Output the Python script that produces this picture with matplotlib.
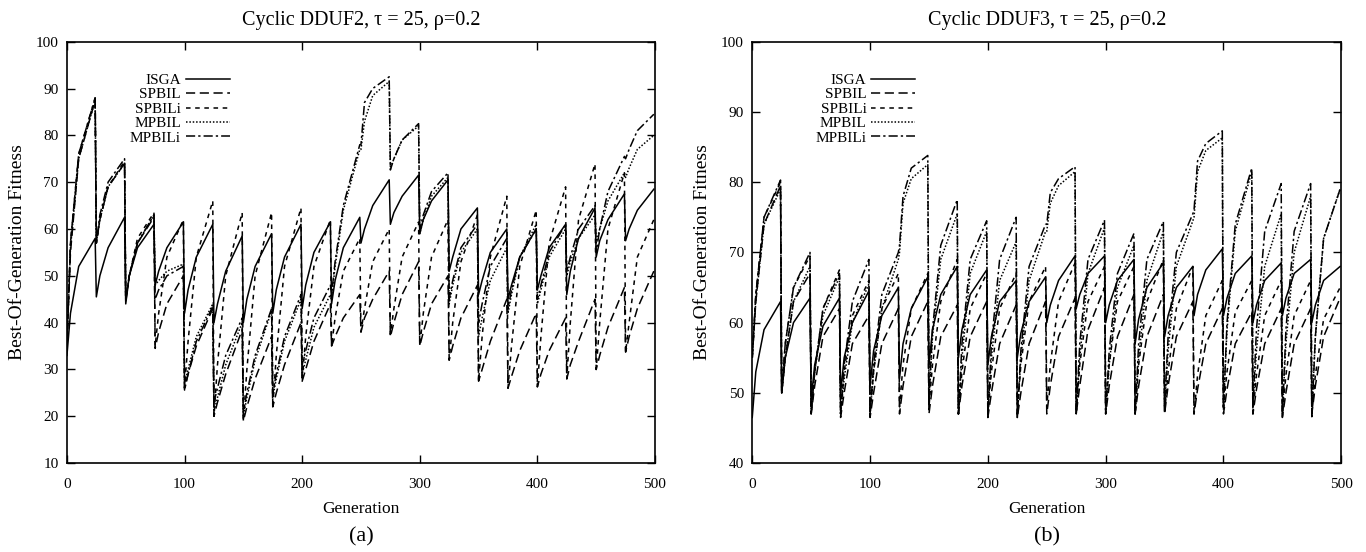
import matplotlib.pyplot as plt

plt.rcParams['font.family'] = ['Liberation Serif', 'DejaVu Serif']

# each 25-generation period is read at the change point, 3 and 10 generations later, and just before the next change
period_offsets = [0, 3, 10, 24]
n_periods = 20
gens = [25 * k + o for k in range(n_periods) for o in period_offsets]

names = ['ISGA', 'SPBIL', 'SPBILi', 'MPBIL', 'MPBILi']

# (a) Cyclic DDUF2, one row per period
isga_a = [[33, 42, 52, 58], [45.5, 50, 56, 62.5], [44, 50, 56, 61], [48, 51, 56, 61.5],
          [42, 47, 54, 61], [40, 44, 51, 58.5], [40, 45, 52, 59], [42, 47, 54, 61],
          [43, 48, 55, 61.5], [44, 49, 56, 62.5], [57, 60, 65, 70.5], [61, 63.5, 67, 71.5],
          [59, 62, 66, 70.5], [51, 54, 60, 64.5], [46, 49, 55, 60], [45, 48, 54, 60],
          [47, 50, 56, 61], [46, 51, 58, 64.5], [54, 57.5, 62, 67.5], [57.5, 60, 64, 68.5]]
spbil_a = [[35, 55, 75, 87.5], [57, 62, 69, 74], [45, 50, 57, 62.5], [34.5, 38, 44, 50],
           [26, 29, 35, 43], [20, 23, 29, 38.5], [19, 22, 28, 37], [22, 25, 31, 40],
           [27.5, 30, 36, 44], [35, 37, 41, 46], [38, 41, 45, 51], [37, 40, 46, 53],
           [35, 38, 44, 50], [32, 35, 41, 48], [27.5, 30, 36, 45], [26, 28.5, 34, 42],
           [26.3, 29, 34, 41], [28, 31, 36, 45], [30, 33, 39, 47.5], [33.7, 37, 43, 51]]
spbili_a = [[35, 57, 76, 88], [57, 62, 69, 74.5], [45, 50, 58, 63.5], [35, 42, 54, 62],
            [26, 36, 54, 66], [20, 31, 50, 63.5], [19, 30, 50, 63.5], [22, 33, 52, 64.5],
            [27.5, 37, 52, 62], [35, 41, 51, 58], [38, 43, 53, 60], [37.5, 43, 54, 61.5],
            [35, 42, 54, 62], [32, 40, 53, 63], [27.5, 37, 54, 67], [26, 35, 52, 64],
            [26.3, 37, 57, 69], [28, 40, 62, 73.9], [30, 40, 60, 72], [33.7, 40, 54, 62]]
mpbil_a = [[35, 56, 75, 87.5], [57, 62, 69, 74], [45, 50, 57, 63], [48, 49, 51, 52.5],
           [27, 30, 37, 44], [21, 24, 31, 40], [20, 24, 32, 42.5], [24, 28, 36, 45],
           [29, 32, 39, 46], [45, 52, 64, 77], [77, 83, 88.5, 91.5], [73, 75, 79, 82],
           [59, 62, 67, 71], [44, 48, 55, 60], [37, 41, 49, 56], [42, 46, 54, 61],
           [44, 47, 54, 60], [50, 53, 58, 63], [57, 60, 66, 72], [71, 73, 77, 80]]
mpbili_a = [[35, 57, 76, 88], [57, 63, 70, 75], [44.5, 50, 57, 63], [45, 47, 50, 52],
            [25.6, 29, 36, 43.5], [23, 26, 33, 41], [21, 25, 33, 43], [25, 29, 37, 46],
            [31, 34, 41, 48], [46, 53, 65, 78], [78, 87, 90, 92.5], [72.6, 75, 79, 82.5],
            [60, 63, 68, 72], [45, 49, 56, 61], [40, 44, 52, 58], [43, 47, 54, 60],
            [45, 48, 55, 61], [51, 54, 60, 65], [55, 60, 68, 75.5], [75, 77, 81, 84.5]]

# (b) Cyclic DDUF3
isga_b = [[46.5, 53, 59, 63], [50, 55, 60, 63.5], [49, 54, 59.5, 63.5], [50, 55, 60, 64.5],
          [51, 56, 61, 65], [52, 57, 62, 66.5], [54, 59, 64, 68], [55, 59, 64, 67.5],
          [54, 58, 63, 66], [55, 58.5, 63, 66.5], [60, 62.5, 66, 69.5], [62, 64, 67, 69.5],
          [60, 62.5, 66, 69], [57, 60.5, 65, 68.5], [58, 61, 65, 68], [61, 64, 67.5, 70.5],
          [61, 63.5, 67, 69.5], [60, 62.5, 66, 68.5], [61, 63.5, 67, 69], [60, 62.5, 66, 68]]
spbil_b = [[55, 63, 74, 79.5], [50, 55, 63, 67], [47, 51, 58, 62], [46.5, 50, 57, 61],
           [46.5, 50, 57, 62], [47, 51, 58, 63], [47, 51, 58, 62.5], [47, 51, 58, 63],
           [46.5, 50, 57, 62.5], [46.5, 50, 57, 63], [47, 51, 58, 63.5], [47, 51, 59, 65],
           [47, 51, 58, 64], [47, 51, 58, 64], [47, 51, 58, 63], [47, 50.5, 57, 62],
           [47, 50.5, 57, 61.5], [47, 50.5, 57, 62], [46.5, 50, 57, 62], [47, 51, 58, 63.5]]
spbili_b = [[55, 64, 75, 80], [50, 57, 65, 69.5], [47, 53, 62, 67.5], [47, 53, 61, 66],
            [47, 53, 62, 67], [48, 54, 62, 67], [48, 54, 63, 69], [47, 53, 62, 67],
            [47, 53, 62, 67], [47, 54, 63, 68], [48, 54, 63, 68.5], [47, 54, 63, 68],
            [48, 54, 63, 68], [47, 54, 63, 69], [47, 53, 62, 68], [47, 52.5, 61, 66],
            [48, 53, 61.5, 66], [47, 52.5, 61, 66], [47, 52.5, 61, 66], [47, 52.5, 60.5, 65]]
mpbil_b = [[55, 63, 74, 79], [50, 55, 63, 68], [47, 53, 61, 66.5], [47, 52, 60, 65.5],
           [47, 53, 62, 69], [70, 77, 80.5, 82.5], [49, 58, 69, 75.5], [47, 55, 67, 73],
           [47, 55, 66, 71.5], [46.5, 55, 66, 73], [73, 77, 79.5, 81.5], [47, 55, 67, 73.5],
           [47, 54, 65, 71], [47, 55, 66, 73], [48, 56, 68, 74.5], [75, 81.5, 84.5, 86.3],
           [48, 59, 73, 81.5], [48, 56, 68, 75.5], [47, 57, 70, 78], [47, 58, 72, 79]]
mpbili_b = [[55, 64, 75, 80.3], [50, 57, 65, 70], [47, 53, 62, 67], [47, 54, 63, 69],
            [47, 54, 64, 70], [71, 78, 82, 83.8], [49, 59, 71, 77.5], [47, 57, 69, 74.5],
            [46.5, 57, 69, 75], [46.5, 56, 68, 74], [74, 78.5, 80.5, 82.2], [47, 57, 69, 74.6],
            [47, 56, 67, 72.7], [47, 57, 69, 74.4], [48, 58, 70, 75.5], [76, 83, 85.5, 87.3],
            [47.5, 60, 74, 82], [48, 59, 73, 79.8], [46.6, 59, 73, 79.8], [46.6, 58, 72, 79]]

styles = ['-', (0, (6, 3)), (0, (3, 3)), (0, (1, 1.2)), (0, (6, 2, 1.5, 2))]


def flat(rows):
    return [v for row in rows for v in row]


def panel(ax, series, title, ylim, tag):
    for name, rows, ls in zip(names, series, styles):
        ax.plot(gens, flat(rows), color='black', linestyle=ls, linewidth=1.1, label=name)
    ax.set_xlim(0, 500)
    ax.set_ylim(*ylim)
    ax.set_xticks(range(0, 501, 100))
    ax.set_yticks(range(ylim[0], ylim[1] + 1, 10))
    ax.tick_params(direction='in', length=6, width=1, top=True, right=True, labelsize=11)
    ax.tick_params(axis='x', pad=11)
    ax.tick_params(axis='y', pad=6)
    for s in ax.spines.values():
        s.set_linewidth(1.2)
    ax.set_title(title, fontsize=14.5, pad=12)
    ax.set_xlabel('Generation', fontsize=12.5, labelpad=7)
    ax.set_ylabel('Best-Of-Generation Fitness', fontsize=14, labelpad=7)
    ax.legend(loc='upper right', bbox_to_anchor=(0.277, 0.925), frameon=False, markerfirst=False,
              fontsize=11, handlelength=2.9, handletextpad=0.3, labelspacing=0.05,
              borderpad=0, borderaxespad=0)
    fig.text(ax.get_position().x0 + ax.get_position().width / 2, 0.027, tag,
             ha='center', va='center', fontsize=16)


fig = plt.figure(figsize=(13.66, 5.52), dpi=100)
ax_a = fig.add_axes([0.049, 0.161, 0.4305, 0.7635])
ax_b = fig.add_axes([0.5507, 0.161, 0.4312, 0.7635])

panel(ax_a, [isga_a, spbil_a, spbili_a, mpbil_a, mpbili_a],
      'Cyclic DDUF2, \u03c4 = 25, \u03c1=0.2', (10, 100), '(a)')
panel(ax_b, [isga_b, spbil_b, spbili_b, mpbil_b, mpbili_b],
      'Cyclic DDUF3, \u03c4 = 25, \u03c1=0.2', (40, 100), '(b)')

fig.savefig('out.png', dpi=100)
